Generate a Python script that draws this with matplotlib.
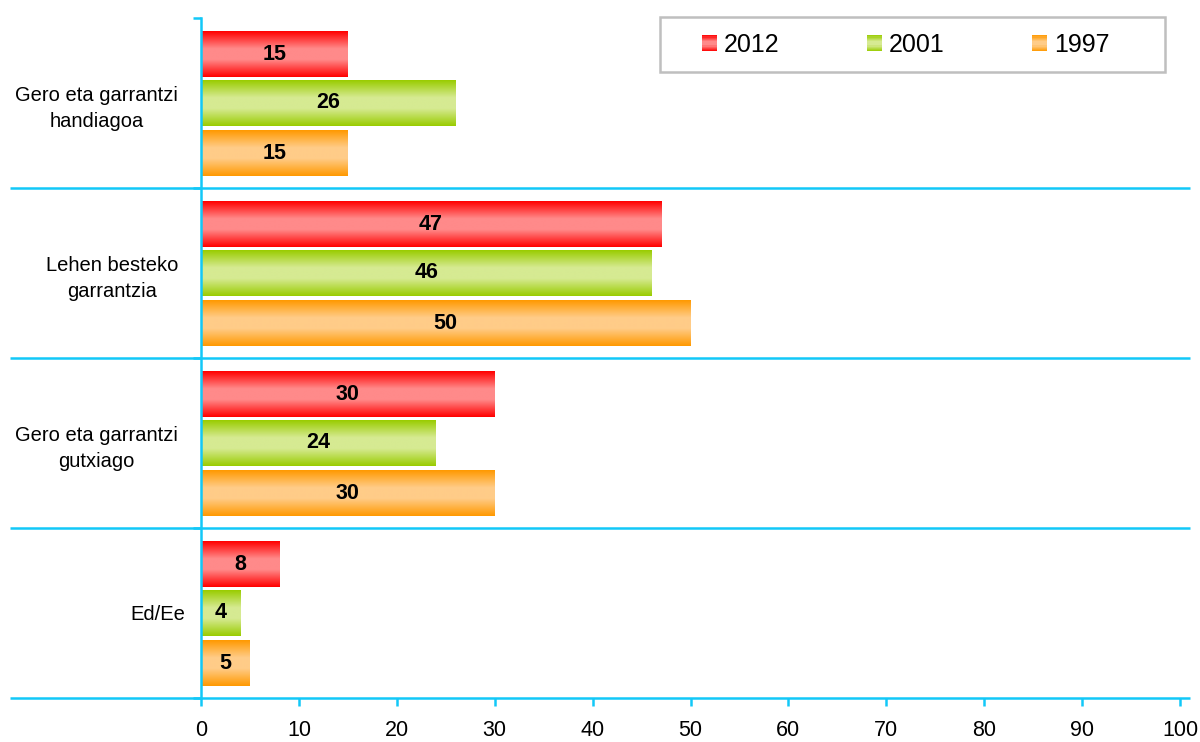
import numpy as np
import matplotlib
matplotlib.use('Agg')
import matplotlib.pyplot as plt
from matplotlib.colors import LinearSegmentedColormap
from matplotlib.patches import Rectangle
from matplotlib.legend_handler import HandlerBase
from matplotlib.transforms import ScaledTranslation

# data
categories = ['Gero eta garrantzi\nhandiagoa', 'Lehen besteko\ngarrantzia',
              'Gero eta garrantzi\ngutxiago', 'Ed/Ee']
years = ['2012', '2001', '1997']
values_2012 = [15, 47, 30, 8]
values_2001 = [26, 46, 24, 4]
values_1997 = [15, 50, 30, 5]
x_ticks = [0, 10, 20, 30, 40, 50, 60, 70, 80, 90, 100]

series = [values_2012, values_2001, values_1997]
# edge colour, middle colour of the gradient
shades = [('#FF0000', '#FF8A8A'), ('#99CC00', '#D6EA92'), ('#FF9900', '#FFCC88')]
offsets = [-0.283, 0.0, 0.297]
bar_h = 0.265
cyan = '#12C8F8'

plt.rcParams['font.family'] = ['Liberation Sans', 'DejaVu Sans']


def make_cmap(edge, mid):
    return LinearSegmentedColormap.from_list(
        'g', [(0, edge), (0.38, mid), (0.62, mid), (1, edge)])


class GradientHandler(HandlerBase):
    """Legend square with the same vertical gradient as the bars"""
    def __init__(self, cmap):
        super().__init__()
        self.cmap = cmap

    def create_artists(self, legend, orig_handle, xdescent, ydescent,
                       width, height, fontsize, trans):
        n = 14
        arts = []
        for i in range(n):
            arts.append(Rectangle((-xdescent, -ydescent + height * i / n), width, height / n,
                                  facecolor=self.cmap((i + 0.5) / n), edgecolor='none',
                                  transform=trans))
        return arts


fig = plt.figure(figsize=(12, 7.42), dpi=100)
ax = fig.add_axes([201 / 1200, 44 / 742, 979 / 1200, 680 / 742])

grad = np.linspace(0, 1, 128).reshape(-1, 1)
ypos = np.arange(len(categories))
cmaps = []
for vals, off, (edge, mid) in zip(series, offsets, shades):
    cmap = make_cmap(edge, mid)
    cmaps.append(cmap)
    bars = ax.barh(ypos + off, vals, height=bar_h, color='none', edgecolor='none')
    for p, v in zip(bars.patches, vals):
        bb = p.get_bbox()
        ax.imshow(grad, cmap=cmap, extent=[bb.x0, bb.x1, bb.y1, bb.y0],
                  aspect='auto', interpolation='bilinear', zorder=2)
        ax.text((bb.x0 + bb.x1) / 2, (bb.y0 + bb.y1) / 2, str(v), ha='center', va='center',
                fontsize=15.5, fontweight='bold', color='black', zorder=3)

# category separator lines running past the axes
for yb in [0.5, 1.5, 2.5, 3.5]:
    ax.plot([-19.5, 101], [yb, yb], color=cyan, lw=1.8, clip_on=False,
            solid_capstyle='butt', zorder=4)

ax.set_xlim(0, 100)
ax.set_ylim(3.5, -0.5)

for s in ['top', 'right', 'bottom']:
    ax.spines[s].set_visible(False)
ax.spines['left'].set_color(cyan)
ax.spines['left'].set_linewidth(1.8)
ax.spines['left'].set_zorder(5)

ax.set_yticks(ypos, labels=categories)
ax.set_yticks([-0.5, 0.5, 1.5, 2.5, 3.5], minor=True)
ax.tick_params(axis='y', which='major', length=0, pad=16.5, labelsize=14.5)
ax.tick_params(axis='y', which='minor', length=6, width=1.8, color=cyan)
for lab in ax.get_yticklabels():
    lab.set_multialignment('center')
    lab.set_linespacing(1.45)
    if '\n' not in lab.get_text():
        lab.set_transform(lab.get_transform() + ScaledTranslation(0.07, 0, fig.dpi_scale_trans))

ax.set_xticks(x_ticks)
ax.tick_params(axis='x', length=6, width=1.8, color=cyan, labelsize=15.5, pad=10)

proxies = [Rectangle((0, 0), 1, 1) for _ in years]
ax.legend(proxies, years, handler_map={p: GradientHandler(c) for p, c in zip(proxies, cmaps)},
          loc='center', bbox_to_anchor=(905.5 / 1200, 1 - 45 / 742),
          bbox_transform=fig.transFigure, ncol=3, frameon=False, fontsize=18,
          handlelength=0.6, handleheight=0.6, handletextpad=0.28, columnspacing=3.5)
fig.patches.append(Rectangle((660 / 1200, 1 - 72 / 742), 505 / 1200, 55 / 742,
                             transform=fig.transFigure, fill=False,
                             edgecolor='#BFBFBF', lw=1.8))

fig.savefig('out.png', dpi=100)
